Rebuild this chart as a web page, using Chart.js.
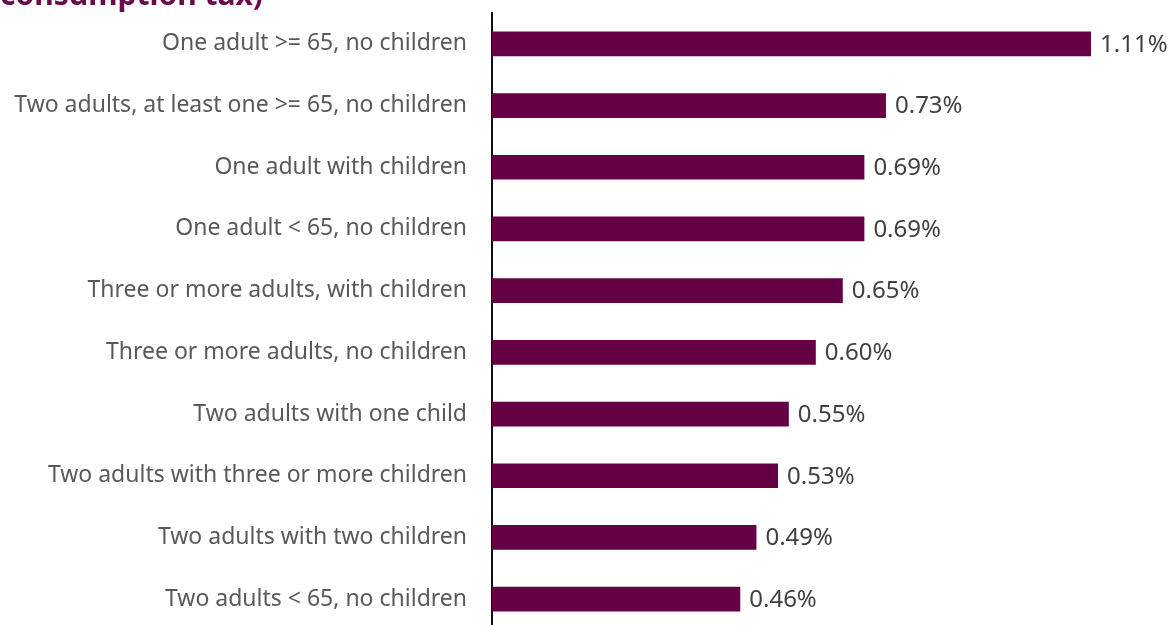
<!DOCTYPE html>
<html lang="en">
<head>
  <meta charset="UTF-8">
  <title>Chart</title>
  <script src="https://cdn.jsdelivr.net/npm/chart.js"></script>
  <style>
    html, body { margin: 0; padding: 0; background: #fff; overflow: hidden; }
    #page { position: relative; width: 1173px; height: 625px; overflow: hidden; }
    #title {
      position: absolute; left: 0; top: -21px; margin: 0;
      font-family: 'Noto Sans', sans-serif; font-weight: 700; font-size: 30px;
      color: #6b0a4b; line-height: 1; white-space: nowrap;
    }
    #chartBar { position: absolute; left: 0; top: 0; }
  </style>
</head>
<body>
  <div id="page">
    <canvas id="chartBar" width="1173" height="631"></canvas>
    <p id="title">consumption tax)</p>
  </div>
<script>
  const categories = [
    'One adult >= 65, no children',
    'Two adults, at least one >= 65, no children',
    'One adult with children',
    'One adult < 65, no children',
    'Three or more adults, with children',
    'Three or more adults, no children',
    'Two adults with one child',
    'Two adults with three or more children',
    'Two adults with two children',
    'Two adults < 65, no children'
  ];
  const values = [1.11, 0.73, 0.69, 0.69, 0.65, 0.60, 0.55, 0.53, 0.49, 0.46];
  const valueLabels = ['1.11%', '0.73%', '0.69%', '0.69%', '0.65%', '0.60%', '0.55%', '0.53%', '0.49%', '0.46%'];

  // rótulos no fim das barras
  const barLabels = {
    id: 'barLabels',
    afterDatasetsDraw(chart) {
      const ctx = chart.ctx;
      const meta = chart.getDatasetMeta(0);
      ctx.save();
      ctx.font = '24px "Noto Sans"';
      ctx.fillStyle = '#404040';
      ctx.textAlign = 'left';
      ctx.textBaseline = 'middle';
      meta.data.forEach((bar, i) => {
        ctx.fillText(valueLabels[i], bar.x + 9, bar.y + 1);
      });
      ctx.restore();
    }
  };

  new Chart(document.getElementById('chartBar'), {
    type: 'bar',
    data: {
      labels: categories,
      datasets: [{
        data: values,
        backgroundColor: '#660044',
        borderWidth: 0,
        barPercentage: 0.4,
        categoryPercentage: 1
      }]
    },
    options: {
      indexAxis: 'y',
      responsive: false,
      animation: false,
      layout: { padding: { top: 13, right: 1, bottom: 1, left: 0 } },
      plugins: {
        legend: { display: false },
        tooltip: { enabled: false }
      },
      scales: {
        x: {
          display: false,
          min: 0,
          max: 1.26
        },
        y: {
          afterFit: (scale) => {
            scale.width = 492;
            scale.paddingTop = 0;
            scale.paddingBottom = 0;
          },
          grid: { display: false, drawTicks: false },
          border: { display: true, color: '#111', width: 2 },
          ticks: {
            padding: 25,
            color: '#595959',
            font: { family: 'Noto Sans', size: 23 }
          }
        }
      }
    },
    plugins: [barLabels]
  });
</script>
</body>
</html>
